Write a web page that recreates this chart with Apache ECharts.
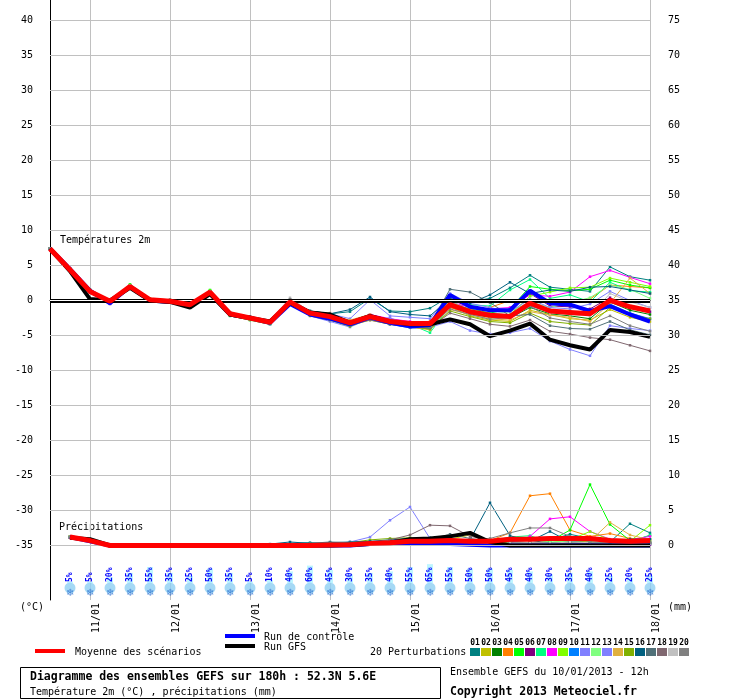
<!DOCTYPE html>
<html>
<head>
<meta charset="utf-8">
<script src="https://cdn.jsdelivr.net/npm/echarts@6/dist/echarts.min.js"></script>
<style>
  html, body { margin: 0; padding: 0; background: #fff; }
  #chart { width: 740px; height: 700px; }
</style>
</head>
<body>
<div id="chart"></div>
<script>
// pas de 6h, du 10/01 12h au 18/01 00h
const steps = ['10/01 12h', '10/01 18h', '11/01 00h', '11/01 06h', '11/01 12h', '11/01 18h',
  '12/01 00h', '12/01 06h', '12/01 12h', '12/01 18h', '13/01 00h', '13/01 06h', '13/01 12h', '13/01 18h',
  '14/01 00h', '14/01 06h', '14/01 12h', '14/01 18h', '15/01 00h', '15/01 06h', '15/01 12h', '15/01 18h',
  '16/01 00h', '16/01 06h', '16/01 12h', '16/01 18h', '17/01 00h', '17/01 06h', '17/01 12h', '17/01 18h',
  '18/01 00h']
const tempTicks = [-35, -30, -25, -20, -15, -10, -5, 0, 5, 10, 15, 20, 25, 30, 35, 40]
const precipTicks = [0, 5, 10, 15, 20, 25, 30, 35, 40, 45, 50, 55, 60, 65, 70, 75]
const memberColors = ['#008080', '#c0c000', '#008000', '#ff8000', '#00ff00', '#800080', '#00ff80',
  '#ff00ff', '#80ff00', '#0080ff', '#8080ff', '#80ff80', '#8080ff', '#e0b040', '#80b000', '#006080',
  '#507078', '#806870', '#c0c0c0', '#808080']

// température 2m (°C)
const tempMean = [7.4, 4.4, 1.3, -0.1, 2.0, 0.1, -0.1, -0.6, 1.2, -1.9, -2.5, -3.1, -0.2, -1.8, -2.3,
  -3.2, -2.3, -3.0, -3.3, -3.3, -0.6, -1.6, -2.1, -2.3, -0.4, -1.5, -1.7, -1.9, 0.0, -0.9, -1.5]
const tempGfs = [7.4, 4.2, 0.2, 0.0, 1.8, 0.0, -0.2, -1.0, 0.9, -2.0, -2.5, -3.0, -0.3, -1.7, -2.0,
  -3.2, -2.2, -3.0, -3.4, -3.4, -2.7, -3.4, -5.1, -4.3, -3.3, -5.6, -6.4, -7.0, -4.2, -4.5, -5.2]
const tempCtrl = [7.4, 4.5, 1.4, -0.4, 2.0, 0.0, -0.2, -0.7, 1.1, -2.0, -2.5, -3.2, -0.5, -2.0, -2.6,
  -3.4, -2.4, -3.2, -3.7, -3.5, 0.8, -0.9, -1.4, -1.4, 1.4, -0.4, -0.6, -1.5, -0.8, -2.0, -3.0]
const tempMembers = [
  [7.4, 4.5, 1.6, 0.0, 2.2, 0.2, 0.0, -0.4, 1.4, -1.7, -2.3, -2.9, 0.1, -1.5, -1.9, -1.6, 0.3, -1.5, -1.6, -1.1, 0.6, -0.2, 0.3, 1.8, 3.6, 1.9, 1.6, 1.3, 4.8, 3.4, 2.9],
  [7.4, 4.3, 1.2, -0.3, 1.9, 0.0, -0.3, -0.8, 1.0, -2.2, -2.8, -3.4, -0.4, -2.1, -2.8, -3.6, -2.8, -3.4, -3.8, -4.0, -0.9, -2.2, -2.8, -3.0, -1.4, -2.0, -2.6, -2.8, -1.3, -2.4, -3.0],
  [7.4, 4.4, 1.3, -0.2, 2.1, 0.1, 0.0, -0.5, 1.3, -2.0, -2.6, -3.3, -0.3, -1.9, -2.5, -3.4, -2.3, -3.0, -3.5, -3.9, -0.6, -1.9, -2.4, -2.5, -1.0, -1.9, -2.2, -2.6, -0.2, -1.4, -2.0],
  [7.4, 4.6, 1.5, 0.1, 2.0, 0.3, 0.1, -0.5, 1.2, -1.8, -2.4, -3.0, 0.0, -1.6, -1.8, -3.2, -2.3, -3.1, -3.6, -3.0, -1.0, -1.8, -1.0, 0.0, 0.0, -0.1, 0.0, 0.2, 2.2, 2.0, 1.8],
  [7.4, 4.5, 1.4, 0.0, 2.3, 0.2, 0.0, -0.6, 1.5, -2.1, -2.7, -3.3, -0.1, -1.8, -2.4, -3.4, -2.6, -3.3, -3.8, -4.0, -0.4, -1.2, -1.8, -1.2, 2.0, 1.6, 1.4, 1.6, 2.9, 2.2, 1.8],
  [7.4, 4.4, 1.2, -0.5, 1.9, -0.1, -0.2, -0.7, 1.1, -1.9, -2.5, -3.0, -0.3, -1.9, -2.2, -3.0, -2.1, -2.8, -3.1, -3.3, 0.2, -1.0, -1.2, -1.3, 1.0, -0.8, -0.9, -1.2, 0.4, -1.0, -1.6],
  [7.4, 4.3, 1.3, -0.2, 2.1, 0.0, -0.1, -0.8, 1.3, -2.2, -2.8, -3.4, -0.4, -2.0, -2.7, -3.6, -2.5, -3.2, -3.4, -4.6, -0.8, -0.6, -0.8, 1.5, 3.0, 0.3, 0.8, -0.2, 2.6, 1.4, 1.2],
  [7.4, 4.4, 1.4, -0.1, 2.0, 0.1, -0.1, -0.6, 1.2, -1.8, -2.4, -3.0, -0.2, -1.7, -2.2, -3.0, -2.0, -2.6, -3.0, -3.1, -0.2, -1.0, -1.2, -1.0, 0.8, 0.6, 1.2, 3.4, 4.3, 3.3, 2.4],
  [7.4, 4.5, 1.3, 0.0, 2.2, 0.2, -0.1, -0.5, 1.4, -1.9, -2.6, -3.2, -0.2, -1.8, -2.4, -3.1, -2.4, -3.0, -3.4, -3.6, -0.6, -1.4, -2.4, -2.0, 0.6, 1.2, 1.8, 1.9, 3.2, 2.6, 2.0],
  [7.4, 4.4, 1.2, -0.4, 1.8, 0.0, -0.2, -0.7, 1.0, -2.0, -2.6, -3.2, -0.3, -2.0, -2.6, -3.4, -2.7, -3.4, -3.9, -4.0, -0.4, -1.7, -2.2, -2.3, -0.8, -1.6, -1.5, -2.0, -0.5, -1.8, -2.6],
  [7.4, 4.5, 1.4, -0.2, 2.0, 0.1, 0.0, -0.6, 1.2, -2.0, -2.7, -3.4, -0.5, -2.2, -3.0, -3.8, -2.6, -2.5, -3.5, -3.8, -3.0, -4.3, -4.8, -4.6, -4.0, -5.8, -7.0, -7.9, -3.6, -4.0, -4.3],
  [7.4, 4.4, 1.3, -0.1, 2.1, 0.1, -0.1, -0.6, 1.3, -1.9, -2.5, -3.1, -0.1, -1.7, -2.2, -3.3, -2.2, -2.9, -3.2, -3.2, 0.0, -1.5, -2.0, -1.6, -0.2, -1.0, -0.3, 0.4, 2.2, 1.6, 0.3],
  [7.4, 4.4, 1.3, -0.3, 1.9, 0.0, -0.1, -0.6, 1.1, -1.9, -2.4, -3.0, 0.0, -1.6, -1.9, -2.6, 0.1, -2.2, -2.4, -2.6, 1.0, -0.4, -1.0, -1.6, 0.2, -1.0, -1.2, -0.5, 1.3, 0.0, -1.0],
  [7.4, 4.5, 1.5, 0.0, 2.1, 0.2, 0.0, -0.5, 1.2, -1.8, -2.4, -3.1, -0.2, -1.6, -2.1, -2.8, -2.0, -3.3, -3.8, -4.2, -1.3, -2.0, -2.6, -2.8, -1.6, -2.1, -2.4, -3.0, -0.4, 3.2, 1.0],
  [7.4, 4.3, 1.2, -0.3, 1.9, 0.0, -0.2, -0.8, 1.1, -2.1, -2.7, -3.3, -0.4, -2.2, -2.8, -3.7, -2.6, -3.2, -3.7, -4.1, -1.5, -2.3, -3.0, -3.2, -1.8, -3.0, -3.3, -3.5, -1.0, -2.0, -2.6],
  [7.4, 4.5, 1.4, 0.0, 2.0, 0.2, 0.1, -0.4, 1.3, -1.8, -2.3, -2.9, 0.0, -1.5, -1.9, -1.3, 0.5, -1.6, -2.0, -2.2, 0.3, -0.4, 0.8, 2.6, 1.0, 1.5, 1.3, 1.9, 2.0, 1.5, 1.0],
  [7.4, 4.4, 1.3, -0.1, 2.0, 0.1, -0.1, -0.6, 1.2, -2.0, -2.5, -3.1, -0.2, -1.8, -2.4, -3.2, -2.6, -3.0, -3.3, -3.4, 1.6, 1.2, -0.3, -2.2, -2.0, -3.6, -4.0, -4.1, -3.0, -4.2, -4.9],
  [7.4, 4.4, 1.3, -0.2, 2.0, 0.0, -0.1, -0.7, 1.1, -2.1, -2.6, -3.2, -0.3, -1.9, -2.5, -3.5, -2.8, -3.4, -3.8, -3.9, -1.8, -2.6, -3.4, -3.7, -2.8, -4.4, -4.8, -5.3, -5.6, -6.4, -7.2],
  [7.4, 4.5, 1.4, 0.1, 2.1, 0.2, 0.0, -0.5, 1.3, -1.8, -2.4, -3.0, 0.4, -1.6, -2.1, -3.0, -2.1, -2.9, -3.2, -3.1, -0.5, -1.3, -1.9, -2.1, -0.6, -1.8, -2.0, -2.2, 1.0, -0.2, -1.0],
  [7.4, 4.4, 1.3, -0.1, 2.0, 0.1, -0.1, -0.6, 1.2, -1.9, -2.5, -3.1, 0.2, -1.7, -2.3, -3.3, -2.5, -3.3, -3.6, -3.7, -1.2, -2.0, -2.7, -2.4, -0.8, -2.5, -3.0, -3.4, -2.2, -3.6, -4.4]
]

// précipitations sur 6h (mm), de 10/01 18h à 18/01 00h
const precipMean = [1.2, 0.7, 0, 0, 0, 0, 0, 0, 0, 0, 0, 0, 0, 0.05, 0.1, 0.3, 0.4, 0.6, 0.6, 0.7, 0.6, 0.6, 0.9, 0.9, 1.0, 1.0, 1.0, 0.7, 0.6, 0.7]
const precipGfs = [1.1, 0.9, 0, 0, 0, 0, 0, 0, 0, 0, 0, 0, 0, 0, 0.1, 0.2, 0.4, 0.9, 1.0, 1.3, 1.8, 0.5, 0, 0, 0, 0, 0, 0, 0, 0]
const precipCtrl = [1.2, 0.6, 0, 0, 0, 0, 0, 0, 0, 0, 0, 0, 0, 0, 0, 0.2, 0.3, 0.3, 0.3, 0.2, 0.1, 0, 0, 0, 0, 0, 0, 0, 0, 0]
const precipMembers = [
  [1.2, 0.7, 0, 0, 0, 0, 0, 0, 0, 0, 0, 0.3, 0.4, 0.2, 0.3, 0.5, 0.6, 0.7, 0.8, 0.9, 0.5, 0.4, 0.6, 0.4, 0.8, 1.6, 1.0, 0.5, 3.1, 1.8],
  [1.2, 0.8, 0, 0, 0, 0, 0, 0, 0, 0, 0, 0, 0.1, 0.2, 0.3, 0.4, 0.5, 0.6, 0.8, 0.9, 1.5, 0.8, 0.3, 0.2, 0.1, 0.3, 0.4, 0.2, 0.1, 0.2],
  [1.1, 0.7, 0, 0, 0, 0, 0, 0, 0, 0, 0, 0, 0, 0.1, 0.2, 0.2, 0.3, 0.4, 0.5, 0.6, 0.5, 0.4, 0.3, 0.2, 0.3, 0.6, 0.5, 0.3, 0.2, 0.4],
  [1.2, 0.6, 0, 0, 0, 0, 0, 0, 0, 0, 0, 0, 0, 0, 0.1, 0.2, 0.3, 0.2, 0.3, 0.4, 0.3, 0.7, 1.8, 7.1, 7.4, 2.2, 1.3, 1.7, 1.0, 0.9],
  [1.3, 0.7, 0, 0, 0, 0, 0, 0, 0, 0, 0, 0, 0, 0, 0.1, 0.1, 0.2, 0.3, 0.4, 0.3, 0.2, 0.1, 0.1, 0.2, 0.6, 2.2, 8.7, 3.0, 0.7, 1.4],
  [1.2, 0.7, 0, 0, 0, 0, 0, 0, 0, 0, 0, 0, 0, 0, 0, 0.1, 0.2, 0.2, 0.3, 0.2, 0.1, 0.1, 0.2, 0.3, 0.2, 0.3, 0.2, 0.1, 0.2, 0.1],
  [1.2, 0.6, 0, 0, 0, 0, 0, 0, 0, 0, 0, 0, 0, 0, 0.1, 0.2, 0.3, 0.4, 0.4, 0.5, 0.4, 0.6, 1.2, 1.4, 0.4, 0.3, 1.0, 0.6, 0.4, 1.5],
  [1.1, 0.7, 0, 0, 0, 0, 0, 0, 0, 0, 0, 0, 0, 0, 0.1, 0.1, 0.2, 0.3, 0.3, 0.2, 0.2, 0.1, 0.3, 1.3, 3.8, 4.1, 2.0, 0.9, 0.8, 1.3],
  [1.2, 0.8, 0, 0, 0, 0, 0, 0, 0, 0, 0, 0, 0, 0.1, 0.2, 0.3, 0.5, 0.6, 0.7, 0.6, 0.5, 0.3, 0.2, 0.3, 0.4, 0.8, 2.0, 0.8, 0.6, 2.9],
  [1.2, 0.7, 0, 0, 0, 0, 0, 0, 0, 0, 0, 0, 0, 0, 0, 0.1, 0.1, 0.2, 0.2, 0.1, 0.1, 0, 0.1, 0.2, 0.4, 0.3, 0.2, 0.1, 0.2, 0.3],
  [1.2, 0.7, 0, 0, 0, 0, 0, 0, 0, 0, 0, 0, 0, 0.1, 0.5, 1.2, 3.6, 5.5, 1.0, 0.8, 0.6, 0.3, 0.2, 0.4, 0.3, 0.2, 0.3, 0.2, 0.1, 0.2],
  [1.1, 0.6, 0, 0, 0, 0, 0, 0, 0, 0, 0, 0, 0, 0, 0.1, 0.2, 0.3, 0.4, 0.3, 0.4, 0.5, 0.4, 0.8, 0.9, 0.5, 0.6, 0.4, 0.3, 0.5, 0.8],
  [1.2, 0.7, 0, 0, 0, 0, 0, 0, 0, 0, 0, 0, 0, 0, 0.1, 0.1, 0.2, 0.2, 0.2, 0.3, 0.2, 0.1, 0.1, 0.2, 0.2, 0.3, 0.3, 0.2, 0.2, 0.4],
  [1.3, 0.8, 0, 0, 0, 0, 0, 0, 0, 0, 0, 0, 0, 0, 0.1, 0.2, 0.3, 0.3, 0.4, 0.5, 0.7, 0.4, 0.2, 0.3, 0.2, 0.4, 0.6, 3.3, 1.5, 0.8],
  [1.2, 0.7, 0, 0, 0, 0, 0, 0, 0, 0, 0, 0, 0.2, 0.3, 0.4, 0.8, 1.0, 1.1, 0.9, 0.8, 0.6, 0.4, 0.3, 0.2, 0.3, 0.4, 0.5, 0.3, 0.2, 0.5],
  [1.2, 0.7, 0, 0, 0, 0, 0, 0, 0, 0, 0.2, 0.5, 0.3, 0.4, 0.5, 0.6, 0.8, 1.0, 1.1, 0.9, 0.8, 6.1, 1.4, 0.6, 2.0, 0.5, 0.4, 0.6, 0.9, 0.9],
  [1.2, 0.7, 0, 0, 0, 0, 0, 0, 0, 0, 0, 0, 0.3, 0.5, 0.4, 0.5, 0.6, 0.7, 0.9, 1.6, 1.0, 0.6, 0.5, 0.4, 0.3, 0.5, 0.4, 0.3, 0.2, 0.4],
  [1.1, 0.6, 0, 0, 0, 0, 0, 0, 0, 0, 0, 0, 0, 0.1, 0.2, 0.4, 0.8, 1.5, 2.9, 2.8, 1.3, 0.8, 0.5, 0.4, 0.3, 0.2, 0.3, 0.2, 0.2, 0.3],
  [1.2, 0.7, 0, 0, 0, 0, 0, 0, 0, 0, 0, 0, 0, 0, 0.1, 0.1, 0.2, 0.3, 0.3, 0.4, 0.3, 0.2, 0.3, 0.4, 0.3, 0.5, 0.4, 0.3, 0.4, 0.3],
  [1.2, 0.7, 0, 0, 0, 0, 0, 0, 0, 0, 0, 0, 0, 0, 0.1, 0.2, 0.3, 0.3, 0.4, 0.6, 0.8, 1.0, 1.8, 2.5, 2.5, 1.3, 0.5, 0.4, 0.3, 0.4]
]

// probabilité de neige (%)
const snowPct = [5, 5, 20, 35, 55, 35, 25, 50, 35, 5, 10, 40, 60, 45, 30, 35, 40, 55, 65, 55, 50, 50, 45, 40, 30, 35, 40, 25, 20, 25]

const MONO = 'DejaVu Sans Mono'
const chart = echarts.init(document.getElementById('chart'))
const isDay = (i, v) => v.slice(6) === '00h'
// les précipitations commencent au 2e pas (cumul sur 6h)
const shift = arr => [null].concat(arr)

const series = []
// lignes de grille horizontales
series.push({
  type: 'line', data: [], z: 1, silent: true,
  markLine: {
    silent: true, symbol: 'none', animation: false, label: { show: false },
    lineStyle: { color: '#c0c0c0', width: 1, type: 'solid' },
    data: tempTicks.map(v => ({ yAxis: v }))
  }
})
// isotherme 0
series.push({
  type: 'line', data: [], z: 1, silent: true,
  markLine: {
    silent: true, symbol: 'none', animation: false, label: { show: false },
    lineStyle: { color: '#000', width: 4, type: 'solid' },
    data: [{ yAxis: 0 }]
  }
})
series.push({
  type: 'line', data: [], z: 1, silent: true,
  markLine: {
    silent: true, symbol: 'none', animation: false, label: { show: false },
    lineStyle: { color: '#fff', width: 1, type: 'solid' },
    data: [{ yAxis: 0 }]
  }
})

tempMembers.forEach((d, j) => {
  const style = {
    type: 'line', z: 2, symbol: 'rect', symbolSize: 2.5, showSymbol: true,
    lineStyle: { width: 1, color: memberColors[j] }, itemStyle: { color: memberColors[j] }
  }
  series.push(Object.assign({ name: 'P' + (j + 1), yAxisIndex: 0, data: d }, style))
  series.push(Object.assign({ name: 'P' + (j + 1), yAxisIndex: 1, data: shift(precipMembers[j]) }, style))
})

const bold = (name, data, axis, color, width, z) => ({
  name, type: 'line', yAxisIndex: axis, data, z, showSymbol: false,
  lineStyle: { color, width }, itemStyle: { color }
})
series.push(bold('Run de contrôle', tempCtrl, 0, '#0000ff', 4, 3))
series.push(bold('Run de contrôle', shift(precipCtrl), 1, '#0000ff', 4, 3))
series.push(bold('Run GFS', tempGfs, 0, '#000000', 4, 4))
series.push(bold('Run GFS', shift(precipGfs), 1, '#000000', 4, 4))
series.push(bold('Moyenne des scénarios', tempMean, 0, '#ff0000', 5, 5))
series.push(bold('Moyenne des scénarios', shift(precipMean), 1, '#ff0000', 5, 5))

// probabilité de neige
series.push({
  type: 'bar', xAxisIndex: 1, yAxisIndex: 2, data: shift(snowPct), barWidth: 6,
  itemStyle: { color: '#bff6ff' }, silent: true,
  label: {
    show: true, position: 'insideBottom', rotate: 90, align: 'left', verticalAlign: 'middle',
    distance: 1, formatter: p => p.value + '%',
    color: '#0000ff', fontFamily: MONO, fontSize: 8, fontWeight: 'bold'
  }
})
series.push({
  type: 'scatter', xAxisIndex: 1, yAxisIndex: 2, clip: false, silent: true,
  data: snowPct.map((p, k) => [k + 1, 0]),
  symbol: 'circle', symbolSize: 11, symbolOffset: [0, 5],
  itemStyle: { color: '#8ed0f2' },
  label: { show: true, position: 'inside', formatter: '❄', color: '#2a6fd0', fontSize: 10, offset: [0, 5] }
})

const txt = (text, x, y, font, extra) => ({
  type: 'text', x, y, silent: true,
  style: Object.assign({ text, font, fill: '#000', textVerticalAlign: 'middle' }, extra || {})
})
const graphic = [
  txt('Températures 2m', 60, 240, '10px ' + MONO),
  txt('Précipitations', 59, 527, '10px ' + MONO),
  txt('(°C)', 20, 607, '10px ' + MONO),
  txt('(mm)', 668, 607, '10px ' + MONO),
  { type: 'rect', shape: { x: 35, y: 649, width: 30, height: 4 }, style: { fill: '#ff0000' } },
  txt('Moyenne des scénarios', 75, 652, '10px ' + MONO),
  { type: 'rect', shape: { x: 225, y: 634, width: 30, height: 4 }, style: { fill: '#0000ff' } },
  txt('Run de contrôle', 264, 637, '10px ' + MONO),
  { type: 'rect', shape: { x: 225, y: 644, width: 30, height: 4 }, style: { fill: '#000' } },
  txt('Run GFS', 264, 647, '10px ' + MONO),
  txt('20 Perturbations', 370, 652, '10px ' + MONO),
  { type: 'rect', shape: { x: 20.5, y: 667.5, width: 420, height: 31 }, style: { fill: '#fff', stroke: '#000', lineWidth: 1 } },
  txt('Diagramme des ensembles GEFS sur 180h : 52.3N 5.6E', 30, 677, 'bold 11.5px ' + MONO),
  txt('Température 2m (°C) , précipitations (mm)', 30, 692, '10px ' + MONO),
  txt('Ensemble GEFS du 10/01/2013 - 12h', 450, 672, '10px ' + MONO),
  txt('Copyright 2013 Meteociel.fr', 450, 692, 'bold 11.5px ' + MONO)
]
memberColors.forEach((c, j) => {
  graphic.push({ type: 'rect', shape: { x: 470 + 11 * j, y: 648, width: 10, height: 8 }, style: { fill: c } })
  graphic.push(txt(String(j + 1).padStart(2, '0'), 475 + 11 * j, 643, 'bold 8px ' + MONO, { textAlign: 'center' }))
})

const option = {
  animation: false,
  backgroundColor: '#fff',
  grid: [
    { left: 50, top: 0, width: 600, height: 600 },
    { left: 50, top: 554, width: 600, height: 29 }
  ],
  xAxis: [
    {
      type: 'category', gridIndex: 0, data: steps, boundaryGap: false,
      axisLine: { lineStyle: { color: '#000', width: 1 } },
      axisTick: { show: false },
      axisLabel: {
        interval: isDay, rotate: 90, margin: 3, verticalAlign: 'top', padding: [1, 0, 0, 0],
        formatter: v => v.slice(0, 5), color: '#000', fontFamily: MONO, fontSize: 10
      },
      splitLine: { show: true, interval: isDay, lineStyle: { color: '#c0c0c0', width: 1 } }
    },
    { type: 'category', gridIndex: 1, data: steps, boundaryGap: false, show: false }
  ],
  yAxis: [
    {
      type: 'value', gridIndex: 0, min: -42.79, max: 42.93, position: 'left',
      axisLine: { show: true, lineStyle: { color: '#000', width: 1 } },
      axisTick: { show: false }, splitLine: { show: false },
      axisLabel: { customValues: tempTicks, margin: 17, padding: [4, 0, 0, 0], color: '#000', fontFamily: MONO, fontSize: 10 }
    },
    {
      type: 'value', gridIndex: 0, min: -7.79, max: 77.93, position: 'right',
      axisLine: { show: false }, axisTick: { show: false }, splitLine: { show: false },
      axisLabel: { customValues: precipTicks, margin: 18, padding: [4, 0, 0, 0], color: '#000', fontFamily: MONO, fontSize: 10 }
    },
    { type: 'value', gridIndex: 1, min: 0, max: 100, show: false }
  ],
  series,
  graphic
}
chart.setOption(option)
</script>
</body>
</html>
